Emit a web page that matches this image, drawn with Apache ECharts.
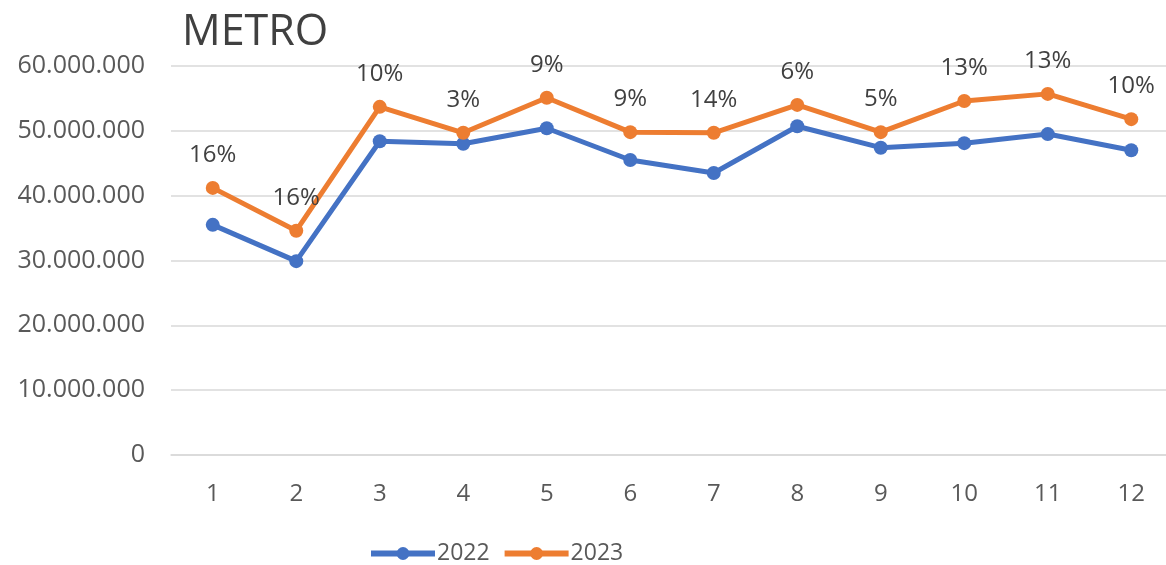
<!DOCTYPE html>
<html><head><meta charset="utf-8">
<script src="https://cdn.jsdelivr.net/npm/echarts@6/dist/echarts.min.js"></script>
<style>html,body{margin:0;padding:0;background:#fff;overflow:hidden}#c{width:1175px;height:565px}</style>
</head><body><div id="c"></div>
<script>
const categories = ['1','2','3','4','5','6','7','8','9','10','11','12'];
const values2022 = [35500000, 29900000, 48400000, 48000000, 50400000, 45500000, 43500000, 50700000, 47400000, 48100000, 49500000, 47000000];
const values2023 = [41200000, 34600000, 53700000, 49700000, 55100000, 49800000, 49700000, 54000000, 49800000, 54600000, 55700000, 51800000];
const growthLabels = ['16%','16%','10%','3%','9%','9%','14%','6%','5%','13%','13%','10%'];
const yTicks = [0, 10000000, 20000000, 30000000, 40000000, 50000000, 60000000];

const fmt = v => String(v).replace(/\B(?=(\d{3})+(?!\d))/g, '.');
const chart = echarts.init(document.getElementById('c'));
const font = '"Open Sans", "Noto Sans", sans-serif';
chart.setOption({
  animation: false,
  title: { text: 'METRO', left: 177, top: 6, textStyle: { fontFamily: font, fontSize: 43, fontWeight: 'normal', color: '#404040' } },
  grid: { left: 171, right: 2, top: 66, bottom: 110, containLabel: false },
  legend: {
    top: 537, left: 363, itemWidth: 64, itemHeight: 16, itemGap: 12,
    lineStyle: { width: 6 },
    textStyle: { fontFamily: font, fontSize: 23, color: '#595959', padding: [0, 0, 0, -3] },
    data: ['2022', '2023']
  },
  xAxis: {
    type: 'category', data: categories, boundaryGap: true,
    axisLine: { lineStyle: { color: '#D9D9D9', width: 1.5 } },
    axisTick: { show: false },
    axisLabel: { fontFamily: font, fontSize: 24, color: '#595959', margin: 27 }
  },
  yAxis: {
    type: 'value', min: yTicks[0], max: yTicks[yTicks.length - 1], interval: 10000000,
    axisLine: { show: false }, axisTick: { show: false },
    splitLine: { lineStyle: { color: '#D9D9D9', width: 1.5 } },
    axisLabel: { fontFamily: font, fontSize: 25, color: '#595959', margin: 26, formatter: v => fmt(v) }
  },
  series: [
    { name: '2022', type: 'line', data: values2022, symbol: 'circle', symbolSize: 14,
      lineStyle: { width: 5, color: '#4472C4' }, itemStyle: { color: '#4472C4' } },
    { name: '2023', type: 'line', data: values2023, symbol: 'circle', symbolSize: 14,
      lineStyle: { width: 5, color: '#ED7D31' }, itemStyle: { color: '#ED7D31' },
      label: { show: true, position: 'top', distance: 14, fontFamily: font, fontSize: 24, color: '#404040',
        formatter: p => growthLabels[p.dataIndex] } }
  ]
});
</script></body></html>
